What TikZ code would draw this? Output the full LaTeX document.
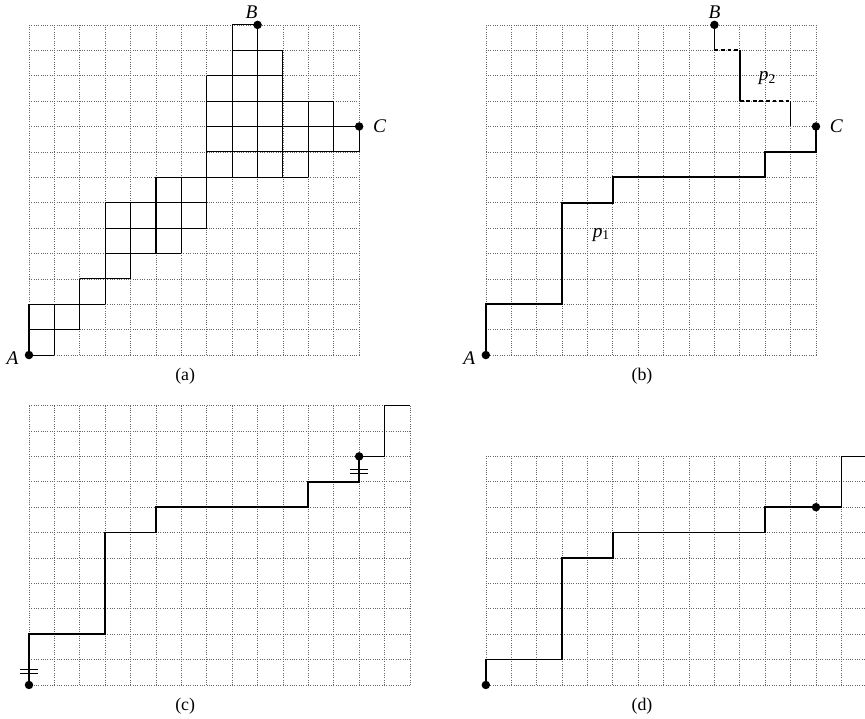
\documentclass[tikz,border=0pt]{standalone}
\usepackage{fontspec}
\setmainfont{Liberation Serif}
\usetikzlibrary{positioning}
\tikzstyle{gridline} = [
    black!60,
    step=1,
    line width=0.45pt,
    dash pattern=on 0.45pt off 1.1pt
]
\tikzstyle{cell} = [
    black,
    step=1,
    line width=0.7pt
]
\tikzstyle{walk} = [
    black,
    line width=1.2pt
]
\tikzstyle{gap} = [
    walk,
    dash pattern=on 2.6pt off 1.8pt
]
\tikzstyle{point} = [
    circle,
    fill=black,
    inner sep=0pt,
    minimum size=0.2cm
]
\tikzstyle{letter} = [
    inner sep=1pt,
    font=\fontsize{13}{15}\selectfont\itshape
]
\tikzstyle{caption} = [font=\fontsize{12}{14}\selectfont]
\tikzstyle{tick} = [line width=0.6pt]

\begin{document}
\begin{tikzpicture}[x=0.6cm, y=0.6cm]

\useasboundingbox (0,0) rectangle (34.06,28.31);

\begin{scope}[shift={(1.142,14.33)}]
\draw [gridline] (0,0) grid (13,13);

\draw [cell] (0,0) grid (1,1);
\draw [cell] (0,1) grid (2,2);
\draw [cell] (2,2) grid (3,3);
\draw [cell] (3,3) grid (4,4);
\draw [cell] (3,4) grid (6,5);
\draw [cell] (3,5) grid (7,6);
\draw [cell] (5,6) grid (7,7);
\draw [cell] (7,7) grid (11,8);
\draw [cell] (7,8) grid (13,9);
\draw [cell] (7,9) grid (12,10);
\draw [cell] (7,10) grid (10,11);
\draw [cell] (8,11) grid (10,12);
\draw [cell] (8,12) grid (9,13);

\node (aA) [point] at (0,0) {};
\node (aB) [point] at (9,13) {};
\node (aC) [point] at (13,9) {};

\node (aAlab) [letter, left=0.1cm of aA, yshift=-0.08cm] {A};
\node (aBlab) [letter, above=0pt of aB, xshift=-0.14cm] {B};
\node (aClab) [letter, right=0.18cm of aC] {C};

\node (acap) [caption] at (6.15,-0.82) {(a)};
\end{scope}

\begin{scope}[shift={(19.13,14.33)}]
\draw [gridline] (0,0) grid (13,13);

\node (bA) [point] at (0,0) {};
\node (bB) [point] at (9,13) {};
\node (bC) [point] at (13,9) {};

\draw [walk] (bA.center) |- (3,2) |- (5,6) |- (11,7) |- (13,8) -- (bC.center);

\draw [walk] (bB.center) -- (9,12);
\draw [gap] (9,12) -- (10,12);
\draw [walk] (10,12) -- (10,10);
\draw [gap] (10,10) -- (12,10);
\draw [walk] (12,10) -- (12,9);

\node (bAlab) [letter, left=0.1cm of bA, yshift=-0.08cm] {A};
\node (bBlab) [letter, above=0pt of bB] {B};
\node (bClab) [letter, right=0.18cm of bC] {C};

\node (pone) [letter] at (4.55,4.74) {p\textsubscript{\upshape 1}};
\node (ptwo) [letter] at (11.09,10.9) {p\textsubscript{\upshape 2}};

\node (bcap) [caption] at (6.15,-0.82) {(b)};
\end{scope}

\begin{scope}[shift={(1.142,1.339)}]
\draw [gridline] (0,0) grid (15,11);

\node (cs) [point] at (0,0) {};
\node (cm) [point] at (13,9) {};

\draw [walk] (cs.center) |- (3,2) |- (5,6) |- (11,7) |- (13,8) -- (cm.center);
\draw [walk] (cm.center) -| (14,11) -- (15,11);

\draw [tick] (-0.35,0.45) -- (0.35,0.45);
\draw [tick] (-0.35,0.62) -- (0.35,0.62);
\draw [tick] (12.65,8.33) -- (13.35,8.33);
\draw [tick] (12.65,8.5) -- (13.35,8.5);

\node (ccap) [caption] at (6.15,-0.82) {(c)};
\end{scope}

\begin{scope}[shift={(19.13,1.339)}]
\draw [gridline] (0,0) grid (15,9);

\node (ds) [point] at (0,0) {};
\node (dm) [point] at (13,7) {};

\draw [walk] (ds.center) |- (3,1) |- (5,5) |- (11,6) |- (14,7) |- (15,9);

\node (dcap) [caption] at (6.15,-0.82) {(d)};
\end{scope}

\end{tikzpicture}
\end{document}
